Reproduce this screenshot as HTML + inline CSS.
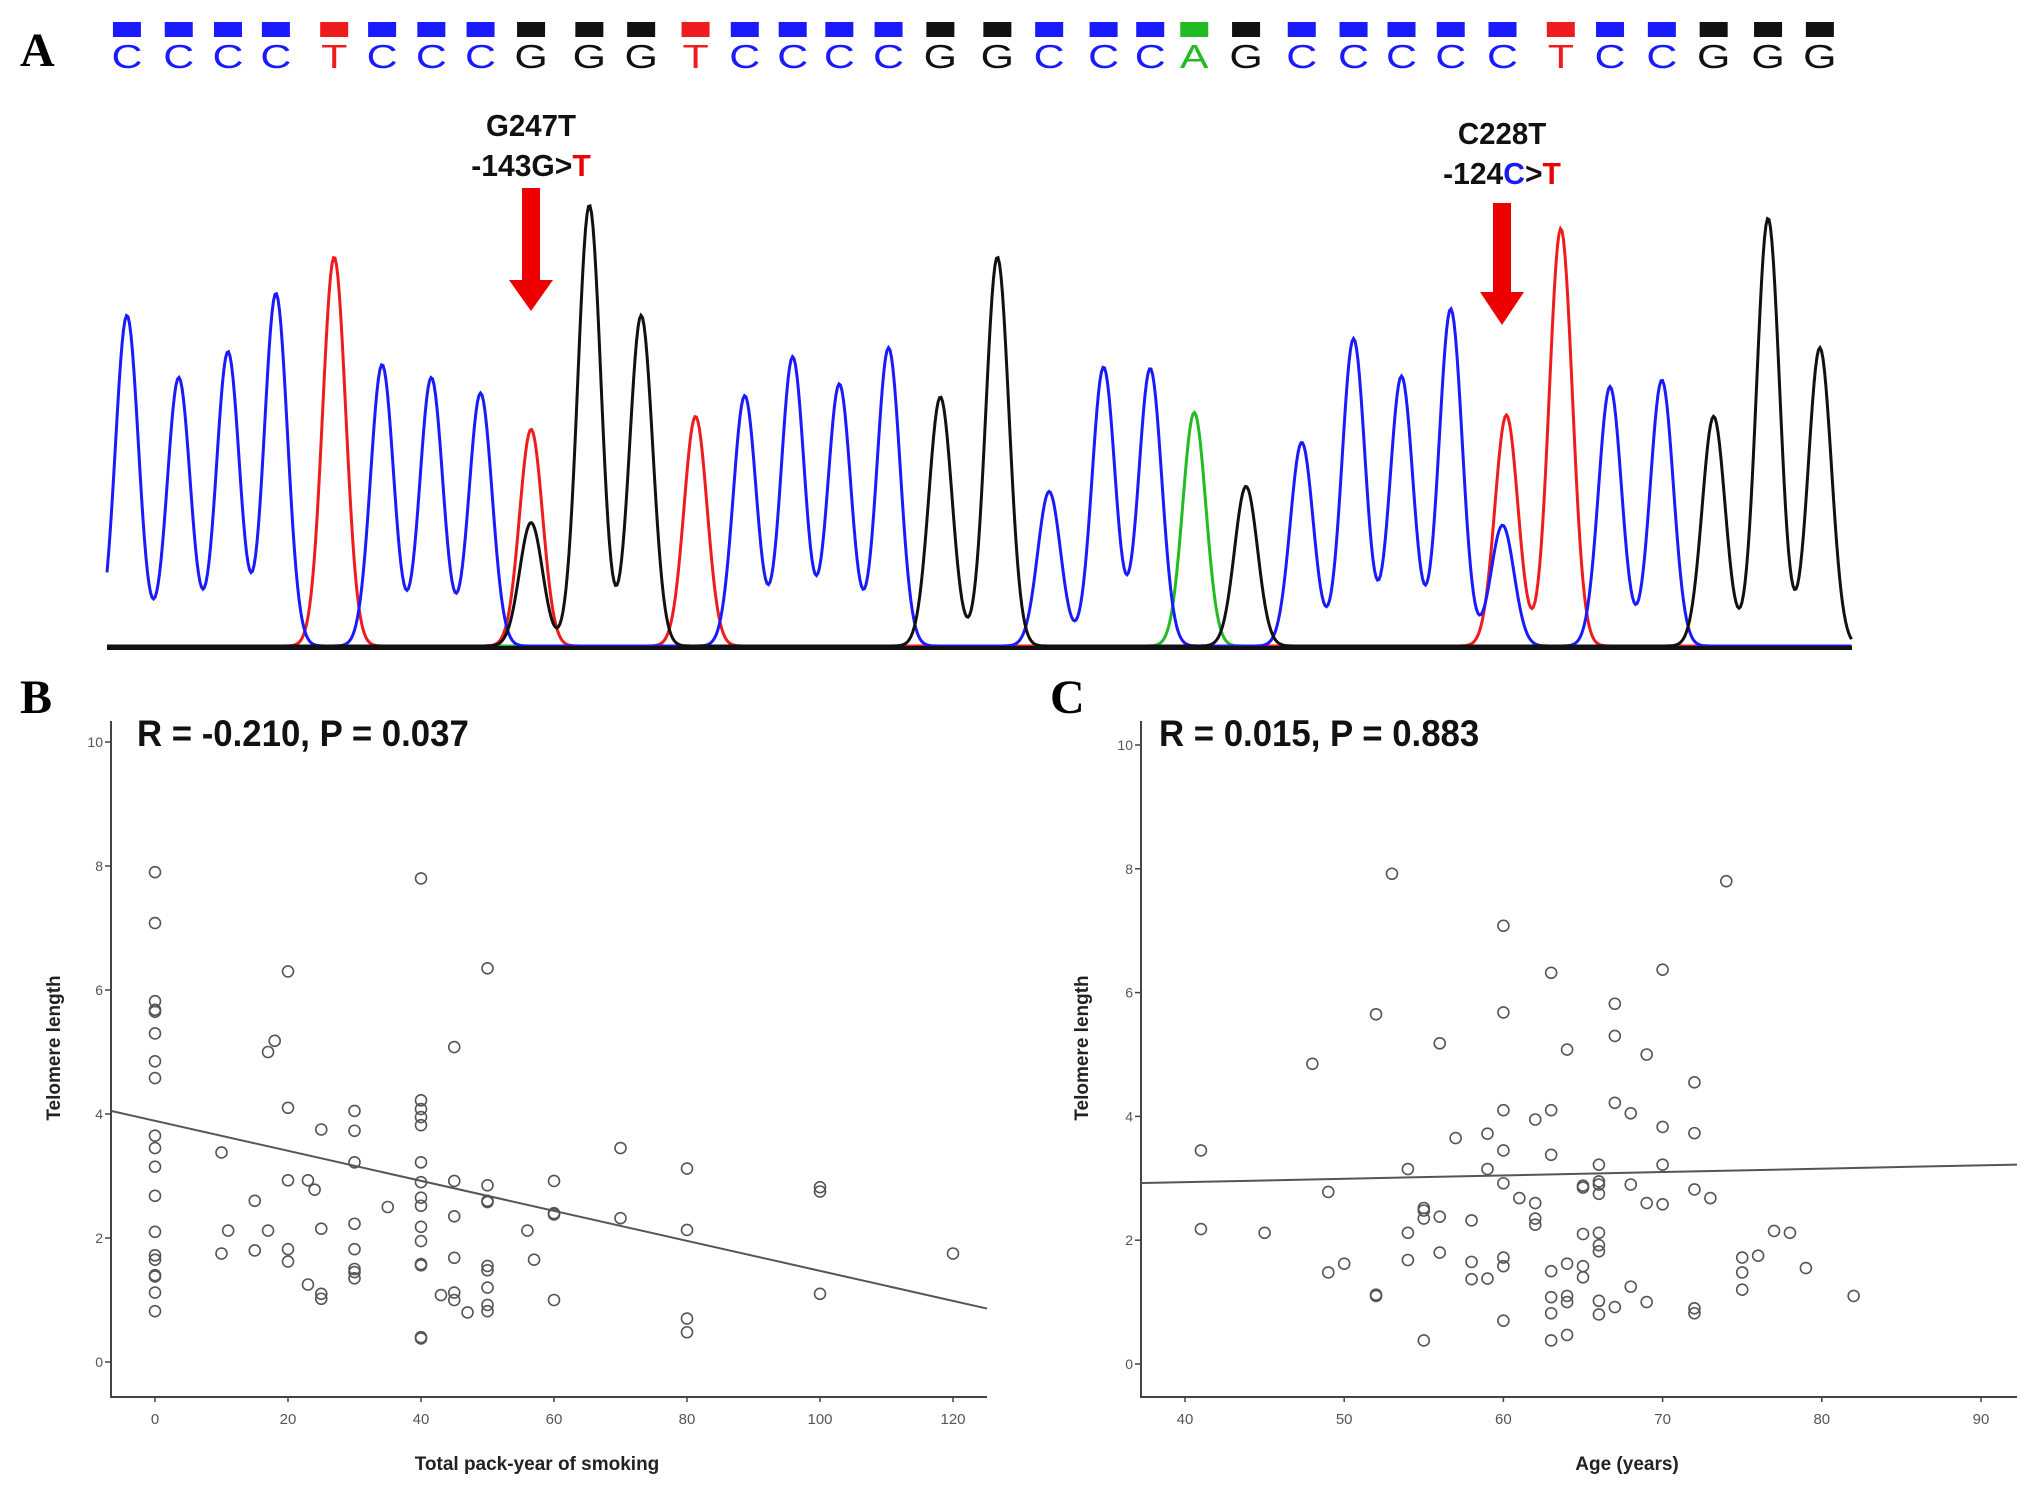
<!DOCTYPE html>
<html><head><meta charset="utf-8"><style>
html,body{margin:0;padding:0;background:#fff;}
svg{display:block;}
</style></head><body>
<svg id="fig" width="2031" height="1493" viewBox="0 0 2031 1493" xmlns="http://www.w3.org/2000/svg">
<g id="panelA"></g>
<g id="panelB"></g>
<g id="panelC"></g>
</svg>
<script>
// ---------- Panel A data ----------
const seqBases = "CCCCTCCCGGGTCCCCGGCCCAGCCCCCTCCGGG".split("");
const peakHeights = [245,293,273,228,200,283,293,305,405,160,245,323,307,277,298,270,308,200,381,285,286,320,377,343,263,292,240,407,178,300,295,323,170,270];
const peakXs = [98,138,176,213,258,295,333,371,410,455,495,537,575,612,648,686,726,770,810,852,888,922,962,1005,1045,1082,1120,1160,1205,1243,1283,1323,1365,1405];
const extraPeaks = [{base:"T",x:410,h:333},{base:"T",x:1163,h:322}];
// ---------- Panel B data ----------
const packYears = [0,0,0,0,0,0,0,0,0,0,0,0,0,0,0,0,0,0,0,10,10,11,15,15,17,17,18,20,20,20,20,20,23,23,24,25,25,25,25,30,30,30,30,30,30,30,30,35,40,40,40,40,40,40,40,40,40,40,40,40,40,40,40,43,45,45,45,45,45,45,47,50,50,50,50,50,50,50,50,50,56,57,60,60,60,60,70,70,80,80,80,80,100,100,100,120];
const telomereB = [7.9,7.08,5.82,5.68,5.65,5.3,4.85,4.58,3.65,3.45,3.15,2.68,2.1,1.72,1.65,1.4,1.38,1.12,0.82,3.38,1.75,2.12,2.6,1.8,2.12,5.0,5.18,6.3,4.1,2.93,1.82,1.62,2.93,1.25,2.78,3.75,2.15,1.1,1.02,4.05,3.73,3.22,2.23,1.82,1.5,1.45,1.35,2.5,7.8,4.22,4.08,3.95,3.82,3.22,2.9,2.65,2.52,2.18,1.95,1.58,1.56,0.38,0.4,1.08,5.08,2.92,2.35,1.68,1.12,1.0,0.8,6.35,2.85,2.6,2.58,1.55,1.48,1.2,0.92,0.82,2.12,1.65,2.92,2.4,2.38,1.0,3.45,2.32,3.12,2.13,0.7,0.48,2.82,2.75,1.1,1.75];
const xTicksB = [0,20,40,60,80,100,120];
const yTicks = [0,2,4,6,8,10];
const fitB = [3.89, -0.0242]; // intercept, slope
// ---------- Panel C data ----------
const ages = [41,41,45,48,49,49,50,52,52,52,53,54,54,54,55,55,55,55,56,56,56,57,58,58,58,59,59,59,60,60,60,60,60,60,60,60,61,62,62,62,62,63,63,63,63,63,63,63,64,64,64,64,64,65,65,65,65,65,66,66,66,66,66,66,66,66,66,67,67,67,67,68,68,68,69,69,69,70,70,70,70,72,72,72,72,72,73,74,75,75,75,76,77,78,79,82];
const telomereC = [3.45,2.18,2.12,4.85,2.78,1.48,1.62,5.65,1.12,1.1,7.92,3.15,2.12,1.68,2.52,2.48,2.35,0.38,5.18,2.38,1.8,3.65,2.32,1.65,1.37,3.72,3.15,1.38,7.08,5.68,4.1,3.45,2.92,1.72,1.58,0.7,2.68,3.95,2.6,2.35,2.25,6.32,4.1,3.38,1.5,1.08,0.82,0.38,5.08,1.62,1.1,1.0,0.47,2.88,2.85,2.1,1.58,1.4,3.22,2.95,2.9,2.75,2.12,1.92,1.82,1.02,0.8,5.82,5.3,4.22,0.92,4.05,2.9,1.25,5.0,2.6,1.0,6.37,3.83,3.22,2.58,4.55,3.73,2.82,0.9,0.82,2.68,7.8,1.72,1.48,1.2,1.75,2.15,2.12,1.55,1.1];
const xTicksC = [40,50,60,70,80,90];
const fitC = [2.72, 0.00544];

const NS="http://www.w3.org/2000/svg";
function mk(parent,tag,attrs,text){const e=document.createElementNS(NS,tag);for(const k in attrs)e.setAttribute(k,attrs[k]);if(text!==undefined)e.textContent=text;parent.appendChild(e);return e;}
const colors={C:"#1a1aff",T:"#ee1c1c",G:"#111111",A:"#22bb22"};
const S=2031/1568;

// ---------- Panel A ----------
(function(){
 const g=document.getElementById('panelA');
 const lab=mk(g,'text',{x:20,y:66,'font-family':'Liberation Serif, serif','font-weight':'bold','font-size':48});
 lab.textContent='A';
 
 
 const base=648, left=107, right=1852;
 seqBases.forEach((b,i)=>{
  const cx=peakXs[i]*S;
  const r=mk(g,'rect',{x:cx-14,y:22,width:28,height:15,fill:colors[b]});
  
  
  const t=mk(g,'text',{x:cx,y:68,'text-anchor':'middle','font-family':'Liberation Sans, sans-serif','font-size':33,fill:colors[b],transform:`translate(${cx},0) scale(1.3,1) translate(${-cx},0)`},b);
  
  
 });
 const traces={C:[],T:[],G:[],A:[]};
 seqBases.forEach((b,i)=>traces[b].push({x:peakXs[i]*S,h:base-peakHeights[i]*S}));
 extraPeaks.forEach(p=>traces[p.base].push({x:p.x*S,h:base-p.h*S}));
 ["A","T","C","G"].forEach(b=>{
  let d="";
  for(let x=left;x<=right;x+=1.5){
   let y=0;traces[b].forEach(p=>{const s=11.5;y+=p.h*Math.exp(-((x-p.x)**2)/(2*s*s));});
   d+=(d?"L":"M")+x.toFixed(1)+","+(base-2-y).toFixed(1);
  }
  const p=mk(g,'path',{d:d,fill:'none',stroke:colors[b],'stroke-width':3});
  
  
 });
 const bl=mk(g,'line',{x1:left,y1:base,x2:right,y2:base,stroke:'#111','stroke-width':4});
 
 
 function arrow(x,y0,y1,tip,l1,l2parts,ty){
  const a=mk(g,'path',{d:`M${x-9},${y0}L${x+9},${y0}L${x+9},${y1}L${x+22},${y1}L${x},${tip}L${x-22},${y1}L${x-9},${y1}Z`,fill:'#ee0000'});
  
  
  const tf=`translate(${x},0) scale(0.95,1.05) translate(${-x},0)`;
  const t1=mk(g,'text',{x:x,y:ty,'text-anchor':'middle','font-family':'Liberation Sans, sans-serif','font-weight':'bold','font-size':31,fill:'#111',transform:`translate(${x},0) scale(0.95,1) translate(${-x},0)`},l1);
  
  
  const t2=mk(g,'text',{x:x,y:ty+40,'text-anchor':'middle','font-family':'Liberation Sans, sans-serif','font-weight':'bold','font-size':31,transform:`translate(${x},0) scale(0.97,1) translate(${-x},0)`});
  
  
  l2parts.forEach(p=>mk(t2,'tspan',{fill:p[1]},p[0]));
 }
 arrow(531,188,280,311,'G247T',[['-143G>','#111'],['T','#ee0000']],136);
 arrow(1502,203,292,325,'C228T',[['-124','#111'],['C','#1a1aff'],['>','#111'],['T','#ee0000']],144);
})();

// ---------- Scatter ----------
function scatter(gid,o){
 const g=document.getElementById(gid);
 const sx=v=>o.x0px+(v-o.x0)*(o.x1px-o.x0px)/(o.x1-o.x0);
 const sy=v=>o.y0px+(v)*(o.y10px-o.y0px)/10;
 const lab=mk(g,'text',{x:o.labX,y:713,'font-family':'Liberation Serif, serif','font-weight':'bold','font-size':48},o.label);
 
 
 const st=mk(g,'text',{x:o.statX,y:746,'font-family':'Liberation Sans, sans-serif','font-weight':'bold','font-size':37,fill:'#111',transform:`translate(${o.statX},0) scale(0.94,1) translate(${-o.statX},0)`},o.stat);
 
 
 const ax=mk(g,'path',{d:`M${o.axL},${o.axTop}L${o.axL},${o.axB}L${o.axR},${o.axB}`,fill:'none',stroke:'#444','stroke-width':2});
 
 
 yTicks.forEach(v=>{
  const y=sy(v);
  const tk=mk(g,'line',{x1:o.axL-6,y1:y,x2:o.axL,y2:y,stroke:'#444','stroke-width':1.5});
  
  
  const tl=mk(g,'text',{x:o.axL-8,y:y+5,'text-anchor':'end','font-family':'Liberation Sans, sans-serif','font-size':14,fill:'#555'},v);
  
  
 });
 o.xticks.forEach(v=>{
  const x=sx(v);
  const tk=mk(g,'line',{x1:x,y1:o.axB,x2:x,y2:o.axB+5,stroke:'#444','stroke-width':1.5});
  
  
  const tl=mk(g,'text',{x:x,y:o.axB+27,'text-anchor':'middle','font-family':'Liberation Sans, sans-serif','font-size':15,fill:'#555'},v);
  
  
 });
 const xt=mk(g,'text',{x:o.xtX,y:1470,'text-anchor':'middle','font-family':'Liberation Sans, sans-serif','font-weight':'bold','font-size':19,fill:'#222'},o.xtitle);
 
 
 const yt=mk(g,'text',{x:0,y:0,'text-anchor':'middle','font-family':'Liberation Sans, sans-serif','font-weight':'bold','font-size':19,fill:'#222',transform:`translate(${o.ytX},1048) rotate(-90)`},'Telomere length');
 
 
 const xa=(o.axL-o.x0px)*(o.x1-o.x0)/(o.x1px-o.x0px)+o.x0, xb=(o.axR-o.x0px)*(o.x1-o.x0)/(o.x1px-o.x0px)+o.x0;
 const fl=mk(g,'line',{x1:sx(xa),y1:sy(o.fit[0]+o.fit[1]*xa),x2:sx(xb),y2:sy(o.fit[0]+o.fit[1]*xb),stroke:'#555','stroke-width':2});
 
 
 o.xs.forEach((v,i)=>{
  const c=mk(g,'circle',{cx:sx(v),cy:sy(o.ys[i]),r:5.5,fill:'none',stroke:'#555','stroke-width':1.6});
  
  
 });
}
scatter('panelB',{label:'B',labX:20,statX:137,stat:'R = -0.210, P =  0.037',x0:0,x1:120,x0px:155,x1px:953,y0px:1362,y10px:742,axL:111,axR:987,axTop:721,axB:1397,xticks:xTicksB,xs:packYears,ys:telomereB,fit:fitB,xtitle:'Total pack-year of smoking',xtX:537,ytX:60});
scatter('panelC',{label:'C',labX:1050,statX:1159,stat:'R = 0.015, P =  0.883',x0:40,x1:90,x0px:1185,x1px:1981,y0px:1364,y10px:745,axL:1141,axR:2017,axTop:721,axB:1397,xticks:xTicksC,xs:ages,ys:telomereC,fit:fitC,xtitle:'Age (years)',xtX:1627,ytX:1088});
</script>
</body></html>
